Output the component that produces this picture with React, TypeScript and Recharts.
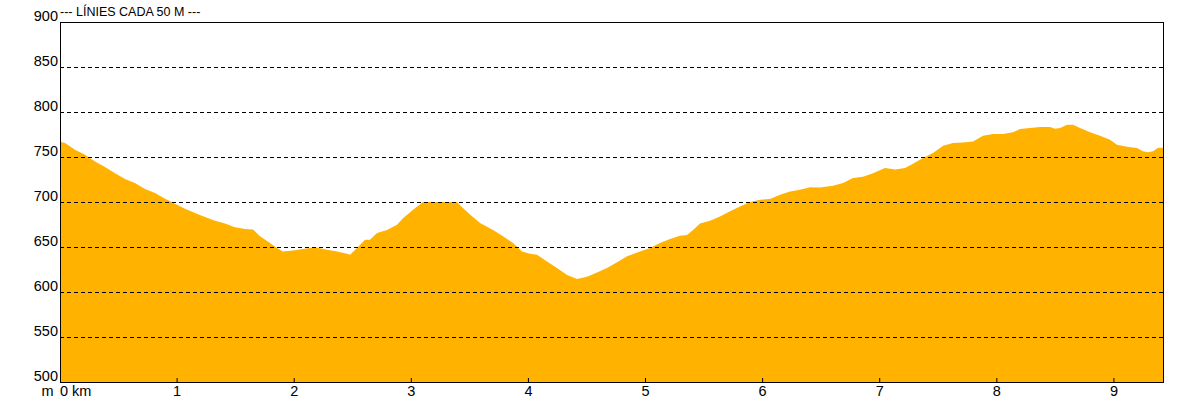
import React from 'react';
import { AreaChart, Area, XAxis, YAxis, ReferenceLine, ReferenceArea } from 'recharts';

const distKm = [
  0, 0.043, 0.128, 0.213, 0.299, 0.384, 0.47, 0.555, 0.64, 0.726, 0.811, 0.897, 0.982,
  1.067, 1.153, 1.238, 1.324, 1.409, 1.494, 1.58, 1.648, 1.708, 1.793, 1.853, 1.904, 1.99,
  2.075, 2.178, 2.28, 2.366, 2.451, 2.477, 2.536, 2.605, 2.647, 2.707, 2.792, 2.878, 2.929,
  3.015, 3.1, 3.219, 3.33, 3.39, 3.441, 3.501, 3.587, 3.698, 3.783, 3.868, 3.945,
  4.014, 4.073, 4.159, 4.244, 4.33, 4.415, 4.5, 4.586, 4.671, 4.757, 4.842, 4.953,
  5.038, 5.124, 5.209, 5.295, 5.354, 5.406, 5.465, 5.551, 5.636, 5.722, 5.807, 5.892, 5.978,
  6.063, 6.149, 6.234, 6.319, 6.405, 6.49, 6.601, 6.687, 6.772, 6.857, 6.943,
  7.045, 7.131, 7.216, 7.284, 7.37, 7.455, 7.541, 7.626, 7.711, 7.797, 7.882, 7.967,
  8.053, 8.138, 8.198, 8.283, 8.369, 8.454, 8.497, 8.54, 8.6, 8.651, 8.711, 8.796, 8.881, 8.967,
  9.026, 9.112, 9.197, 9.248, 9.291, 9.334, 9.377, 9.419,
];

const elevM = [
  767, 765.5, 758, 752.6, 745, 739, 732, 725.5, 721, 714.5, 710, 703.7, 698,
  692.5, 687.8, 683.3, 679.2, 676, 672, 670, 669.5, 662, 654.4, 649, 645, 646,
  647.7, 649.6, 647, 645, 642.5, 641.5, 649, 658, 658, 665.5, 669, 674.8, 682,
  691.4, 700, 700, 700, 700, 693.3, 686, 676.7, 669, 662, 654.4, 645,
  642.5, 641.5, 634, 626.7, 619, 614.4, 617, 621.8, 626.7, 633, 639.6, 645,
  649, 654.4, 658.8, 662.6, 663.3, 669, 676, 679.2, 684, 689.6, 695, 700, 702.6,
  703.3, 708, 711.8, 713.7, 716.3, 716, 718, 721, 726.7, 728, 732,
  737.8, 736, 737.8, 742.6, 749, 754.4, 762.6, 765.5, 766.2, 767.3, 773.6, 775.5,
  775.5, 777.4, 781, 782.2, 783.3, 783.3, 781.4, 782.2, 785.9, 785.9, 782.2, 777.4, 773.6, 769.2,
  763.7, 761.5, 760, 756.3, 755.2, 756.3, 760.3, 760.3,
];

const xTicks = [0, 1, 2, 3, 4, 5, 6, 7, 8, 9];
const yTicks = [500, 550, 600, 650, 700, 750, 800, 850, 900];
const gridValues = [550, 600, 650, 700, 750, 800, 850];
const xMax = 9.419;
const titleText = '--- LÍNIES CADA 50 M ---';

const data = distKm.map((d, i) => ({ km: d, elev: elevM[i] }));

const FONT = '"Liberation Sans", Arial, sans-serif';

const XTick = (props: any) => {
  const { x, y, payload } = props;
  const v = payload.value;
  return (
    <g>
      {v !== 0 && <line x1={x} y1={y} x2={x} y2={y - 4} stroke="#000" strokeWidth={1} />}
      {v === 0 ? (
        <>
          <text x={x - 6.5} y={y + 13.5} textAnchor="end" fontSize={14.5} fontFamily={FONT} fill="#000">m</text>
          <text x={x} y={y + 13.5} textAnchor="start" fontSize={14.5} fontFamily={FONT} fill="#000">0 km</text>
        </>
      ) : (
        <text x={x} y={y + 13.5} textAnchor="middle" fontSize={14.5} fontFamily={FONT} fill="#000">{v}</text>
      )}
    </g>
  );
};

const YTick = (props: any) => {
  const { x, y, payload } = props;
  return (
    <text x={x} y={y - 1.5} textAnchor="end" fontSize={14.5} fontFamily={FONT} fill="#000">{payload.value}</text>
  );
};

export default function App() {
  return (
    <div style={{ position: 'absolute', left: 0, top: 0, width: 1192, height: 402, background: '#fff' }}>
      <AreaChart width={1192} height={402} data={data} margin={{ top: 22, right: 29, bottom: 0, left: 0 }}>
        <XAxis
          dataKey="km"
          type="number"
          domain={[0, xMax]}
          ticks={xTicks}
          interval={0}
          height={20}
          axisLine={false}
          tickLine={false}
          tickSize={0}
          tickMargin={0}
          tick={<XTick />}
        />
        <YAxis
          type="number"
          domain={[500, 900]}
          ticks={yTicks}
          interval={0}
          width={60}
          axisLine={false}
          tickLine={false}
          tickSize={0}
          tickMargin={2}
          tick={<YTick />}
        />
        <Area
          type="linear"
          dataKey="elev"
          stroke="none"
          fill="#FFB300"
          fillOpacity={1}
          baseValue={500}
          isAnimationActive={false}
        />
        {gridValues.map((g) => (
          <ReferenceLine key={g} y={g} stroke="#000" strokeWidth={1} strokeDasharray="4 3" shapeRendering="crispEdges" />
        ))}
        <ReferenceArea x1={0} x2={xMax} y1={500} y2={900} fill="none" stroke="#000" strokeWidth={1} ifOverflow="visible" shapeRendering="crispEdges" />
      </AreaChart>
      <div
        style={{
          position: 'absolute',
          left: 60,
          top: 4,
          fontFamily: FONT,
          fontSize: 12.5,
          lineHeight: '16px',
          color: '#000',
          whiteSpace: 'nowrap',
        }}
      >
        {titleText}
      </div>
    </div>
  );
}
